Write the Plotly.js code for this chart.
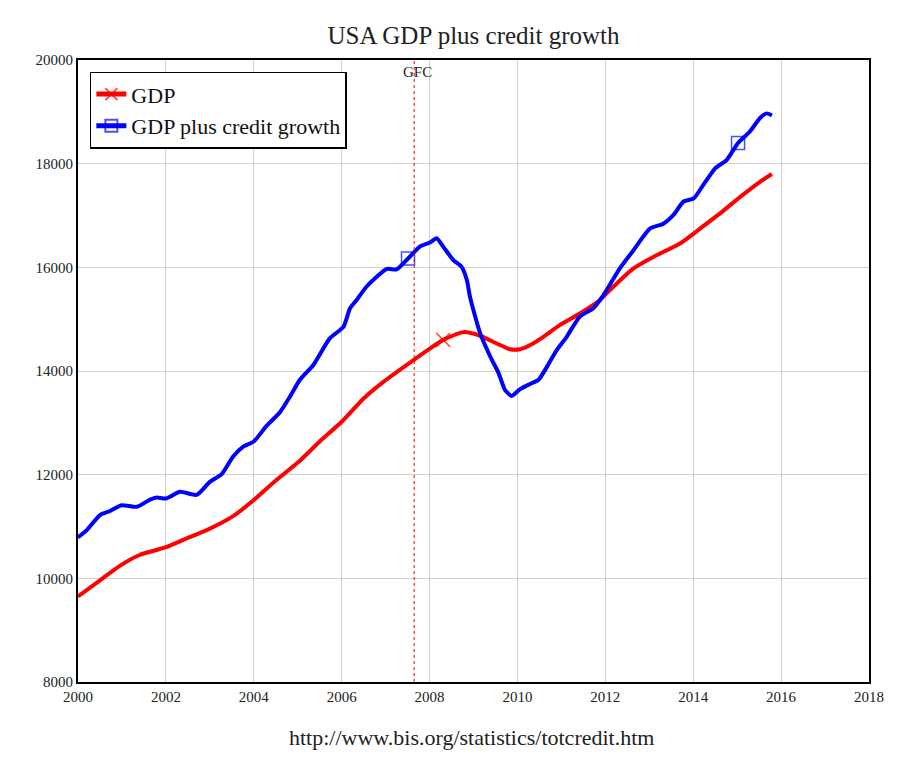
<!DOCTYPE html>
<html>
<head>
<meta charset="utf-8">
<script src="https://cdn.plot.ly/plotly-3.0.1.min.js"></script>
<style>
  html, body { margin: 0; padding: 0; background: #ffffff; }
  #chart { width: 900px; height: 760px; }
</style>
</head>
<body>
<div id="chart"></div>
<script>
// ---- data ----
const gdpYears = [2000.0, 2000.5, 2000.95, 2001.4, 2002.0, 2002.47, 2002.93, 2003.53, 2004.0, 2004.52,
  2005.05, 2005.5, 2006.0, 2006.5, 2006.95, 2007.65, 2008.09, 2008.31, 2008.77, 2009.15,
  2009.53, 2009.83, 2010.06, 2010.29, 2010.59, 2010.97, 2011.42, 2011.88, 2012.03, 2012.64,
  2013.09, 2013.7, 2014.16, 2014.61, 2015.07, 2015.52, 2015.79];
const gdpValues = [9650, 9960, 10240, 10450, 10600, 10770, 10930, 11200, 11510, 11900,
  12270, 12640, 13020, 13470, 13790, 14220, 14480, 14600, 14750, 14680,
  14530, 14420, 14420, 14500, 14660, 14890, 15110, 15370, 15500, 15980,
  16200, 16460, 16750, 17040, 17360, 17650, 17800];

const creditYears = [2000.0, 2000.2, 2000.5, 2000.73, 2000.99, 2001.34, 2001.64, 2001.79, 2002.0, 2002.32,
  2002.7, 2003.0, 2003.27, 2003.53, 2003.76, 2004.0, 2004.29, 2004.6, 2004.82, 2005.05,
  2005.35, 2005.73, 2006.04, 2006.19, 2006.34, 2006.57, 2007.03, 2007.25, 2007.51, 2007.78,
  2008.01, 2008.16, 2008.31, 2008.54, 2008.73, 2008.85, 2008.92, 2009.15, 2009.38, 2009.57,
  2009.72, 2009.87, 2010.06, 2010.29, 2010.48, 2010.67, 2010.89, 2011.12, 2011.42, 2011.73,
  2011.88, 2012.03, 2012.33, 2012.64, 2013.02, 2013.32, 2013.55, 2013.78, 2014.01, 2014.23,
  2014.5, 2014.76, 2015.02, 2015.29, 2015.52, 2015.67, 2015.79];
const creditValues = [10790, 10930, 11220, 11300, 11410, 11380, 11520, 11560, 11540, 11670,
  11610, 11860, 12010, 12350, 12540, 12640, 12940, 13210, 13500, 13830,
  14110, 14630, 14850, 15210, 15370, 15630, 15970, 15960, 16170, 16400,
  16480, 16560, 16400, 16140, 16010, 15750, 15430, 14730, 14280, 13960,
  13630, 13520, 13650, 13750, 13830, 14080, 14400, 14660, 15050, 15210,
  15370, 15560, 15980, 16330, 16750, 16840, 17010, 17270, 17330, 17590,
  17910, 18070, 18400, 18620, 18880, 18970, 18930];

const gdpMarkerYears = [2008.31];
const creditMarkerYears = [2007.51, 2015.02];
const gfcYear = 2007.65;

const seriesNames = ['GDP', 'GDP plus credit growth'];
const titleText = 'USA GDP plus credit growth';
const sourceText = 'http://www.bis.org/statistics/totcredit.htm';
const xTicks = [2000, 2002, 2004, 2006, 2008, 2010, 2012, 2014, 2016, 2018];
const yTicks = [8000, 10000, 12000, 14000, 16000, 18000, 20000];

// ---- chart ----
const FONT = '"Liberation Serif", "Times New Roman", serif';
function sizesFor(xs, marks, s) { return xs.map(x => marks.indexOf(x) >= 0 ? s : 0); }

const traces = [
  {
    x: gdpYears, y: gdpValues, name: seriesNames[0], type: 'scatter', mode: 'lines+markers',
    line: { color: '#ff0000', width: 4, shape: 'spline', smoothing: 0.6 },
    marker: { symbol: 'x-thin-open', color: '#ff0000', size: sizesFor(gdpYears, gdpMarkerYears, 14),
      line: { color: '#ff0000', width: 1.5 } }
  },
  {
    x: creditYears, y: creditValues, name: seriesNames[1], type: 'scatter', mode: 'lines+markers',
    line: { color: '#0000ff', width: 4, shape: 'spline', smoothing: 0.6 },
    marker: { symbol: 'square-open', color: '#0000ff', size: sizesFor(creditYears, creditMarkerYears, 13),
      line: { color: '#0000ff', width: 1.5 } }
  }
];

const layout = {
  width: 900, height: 760,
  paper_bgcolor: '#ffffff', plot_bgcolor: '#ffffff',
  margin: { l: 78, r: 31, t: 60, b: 78 },
  font: { family: FONT, size: 15, color: '#222' },
  title: { text: titleText, xref: 'paper', x: 0.5, xanchor: 'center', y: 0.954, yanchor: 'middle',
    font: { family: FONT, size: 25, color: '#222' } },
  showlegend: true,
  legend: { x: 0.015, y: 0.981, xanchor: 'left', yanchor: 'top', bgcolor: '#ffffff',
    bordercolor: '#000000', borderwidth: 1.5, font: { family: FONT, size: 22, color: '#111' },
    itemsizing: 'constant', tracegroupgap: 0 },
  xaxis: { range: [2000, 2018], tickvals: xTicks, ticktext: xTicks.map(String),
    showgrid: true, gridcolor: '#cfcfcf', gridwidth: 1, zeroline: false,
    showline: true, linecolor: '#000', linewidth: 2, mirror: true, ticks: '',
    tickfont: { family: FONT, size: 15, color: '#222' } },
  yaxis: { range: [8000, 20000], tickvals: yTicks, ticktext: yTicks.map(String),
    showgrid: true, gridcolor: '#cfcfcf', gridwidth: 1, zeroline: false,
    showline: true, linecolor: '#000', linewidth: 2, mirror: true, ticks: '',
    tickfont: { family: FONT, size: 15, color: '#222' } },
  shapes: [
    { type: 'line', xref: 'x', yref: 'paper', x0: gfcYear, x1: gfcYear, y0: 0, y1: 1,
      line: { color: '#ff0000', width: 1, dash: 'dot' } }
  ],
  annotations: [
    { text: 'GFC', xref: 'x', yref: 'y', x: gfcYear + 0.07, y: 19760, showarrow: false,
      xanchor: 'center', yanchor: 'middle', font: { family: FONT, size: 15, color: '#222' } },
    { text: sourceText, xref: 'paper', yref: 'paper', x: 0.498, y: -0.09, showarrow: false,
      xanchor: 'center', yanchor: 'middle', font: { family: FONT, size: 22, color: '#222' } }
  ]
};

Plotly.newPlot('chart', traces, layout, { displayModeBar: false, staticPlot: true });
</script>
</body>
</html>
